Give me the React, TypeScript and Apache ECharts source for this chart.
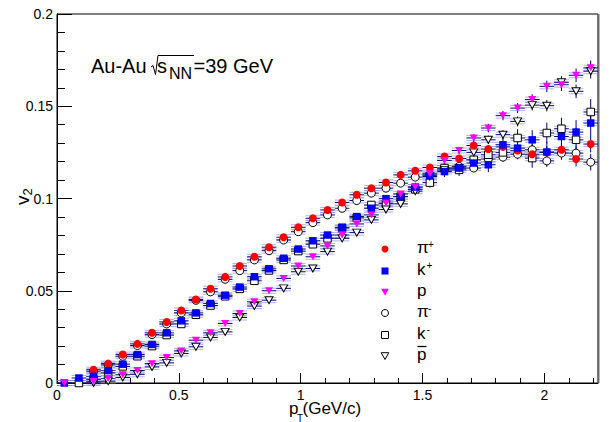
import { useEffect, useRef } from 'react';
import * as echarts from 'echarts';

// pT bin centres (GeV/c)
const PT_BINS = [
  0.03, 0.09, 0.15, 0.21, 0.27, 0.33, 0.39, 0.45, 0.51, 0.57, 0.63, 0.69, 0.75,
  0.81, 0.87, 0.93, 0.99, 1.05, 1.11, 1.17, 1.23, 1.29, 1.35, 1.41, 1.47, 1.53,
  1.59, 1.65, 1.71, 1.77, 1.83, 1.89, 1.95, 2.01, 2.07, 2.13, 2.19,
];

// v2 per species (null = no measurement in that bin)
const V2_PI_PLUS = [
  null, null, 0.0072, 0.0105, 0.0154, 0.0212, 0.0272, 0.0331, 0.0393, 0.0453, 0.0511, 0.0575, 0.0634,
  0.0684, 0.0736, 0.079, 0.0844, 0.0893, 0.0938, 0.0978, 0.102, 0.1056, 0.1087, 0.1128, 0.115, 0.1168,
  0.1228, 0.1217, 0.1287, 0.1268, 0.128, 0.126, 0.124, 0.125, 0.1264, 0.1214, 0.1295,
];
const V2_K_PLUS = [
  0.0, 0.0027, 0.0036, 0.0067, 0.0102, 0.0154, 0.0209, 0.0272, 0.0337, 0.038, 0.0431, 0.0476, 0.052,
  0.0576, 0.0619, 0.0676, 0.0726, 0.0771, 0.0802, 0.0844, 0.0902, 0.0947, 0.0999, 0.101, 0.1062, 0.1123,
  0.1146, 0.1165, 0.1192, 0.1183, 0.1291, 0.1273, 0.1318, 0.1252, 0.1336, 0.136, 0.1409,
];
const V2_P = [
  0.0, null, 0.0008, 0.0024, 0.0045, 0.0068, 0.0105, 0.0138, 0.0174, 0.0232, 0.0272, 0.0323, 0.0377,
  0.044, 0.05, 0.0567, 0.0634, 0.0684, 0.0743, 0.0802, 0.0862, 0.0911, 0.0975, 0.1025, 0.1062, 0.1134,
  0.1206, 0.126, 0.1328, 0.1382, 0.1449, 0.149, 0.1536, 0.1608, 0.1617, 0.1668, 0.1708,
];
const V2_PI_MINUS = [
  null, null, 0.0064, 0.0098, 0.0145, 0.0203, 0.0262, 0.032, 0.038, 0.0448, 0.0494, 0.0562, 0.0609,
  0.0667, 0.0717, 0.0775, 0.082, 0.0869, 0.0911, 0.0947, 0.0989, 0.1029, 0.1056, 0.1083, 0.1116, 0.1128,
  0.1165, 0.1174, 0.1165, 0.1214, 0.1224, 0.124, 0.1264, 0.1204, 0.1246, 0.1246, 0.1197,
];
const V2_K_MINUS = [
  null, 0.0, 0.002, 0.0055, 0.009, 0.0145, 0.02, 0.026, 0.032, 0.037, 0.042, 0.047, 0.051,
  0.0554, 0.061, 0.0667, 0.0715, 0.0752, 0.0784, 0.084, 0.0895, 0.0965, 0.0971, 0.101, 0.105, 0.1086,
  0.1165, 0.1155, 0.121, 0.1237, 0.125, 0.1328, 0.1219, 0.1355, 0.1378, 0.1318, 0.1469,
];
const V2_PBAR = [
  null, null, 0.0, 0.001, 0.003, 0.0047, 0.0087, 0.0109, 0.016, 0.0196, 0.0247, 0.0277, 0.0355,
  0.0417, 0.0449, 0.0513, 0.0603, 0.0621, 0.0712, 0.0784, 0.0815, 0.0884, 0.094, 0.0971, 0.104, 0.1119,
  0.1155, 0.1165, 0.125, 0.1318, 0.1346, 0.1418, 0.1506, 0.1503, 0.163, 0.1581, 0.169,
];

// statistical uncertainties (half-length of the vertical bars)
const ERR_PI = [
  0.0003, 0.0003, 0.0003, 0.0003, 0.0003, 0.0003, 0.0003, 0.0003, 0.0003, 0.0003, 0.0004, 0.0004, 0.0004,
  0.0004, 0.0005, 0.0005, 0.0005, 0.0006, 0.0006, 0.0007, 0.0008, 0.0009, 0.001, 0.0011, 0.0012, 0.0014,
  0.0016, 0.0018, 0.002, 0.0022, 0.0025, 0.0028, 0.003, 0.0033, 0.0036, 0.004, 0.0045,
];
const ERR_K = [
  0.0004, 0.0004, 0.0004, 0.0004, 0.0004, 0.0004, 0.0004, 0.0004, 0.0005, 0.0005, 0.0005, 0.0006, 0.0006,
  0.0007, 0.0008, 0.0009, 0.001, 0.0011, 0.0012, 0.0013, 0.0015, 0.0017, 0.0019, 0.0021, 0.0024, 0.0027,
  0.003, 0.0033, 0.0036, 0.004, 0.0044, 0.0048, 0.0052, 0.0056, 0.006, 0.0065, 0.007,
];
const ERR_P = [
  0.0006, 0.0006, 0.0006, 0.0006, 0.0006, 0.0006, 0.0006, 0.0006, 0.0006, 0.0006, 0.0007, 0.0007, 0.0007,
  0.0008, 0.0008, 0.0009, 0.0009, 0.001, 0.001, 0.0011, 0.0012, 0.0013, 0.0014, 0.0015, 0.0016, 0.0017,
  0.0018, 0.002, 0.0021, 0.0023, 0.0025, 0.0027, 0.0029, 0.0031, 0.0034, 0.0037, 0.004,
];

const X_MAJOR_TICKS = [0, 0.5, 1, 1.5, 2];
const X_MINOR_TICKS = [
  0.1, 0.2, 0.3, 0.4, 0.6, 0.7, 0.8, 0.9, 1.1, 1.2, 1.3, 1.4, 1.6, 1.7, 1.8, 1.9, 2.1, 2.2,
];
const X_MIN = 0;
const X_MAX = 2.22;
const Y_MIN = 0;
const Y_MAX = 0.2;
const Y_STEP = 0.05;
const BIN_HALF_WIDTH = 0.03;

const FONT = '"Liberation Sans", Arial, Helvetica, sans-serif';

type Species = {
  base: string;
  sup?: string;
  bar?: boolean;
  values: (number | null)[];
  err: number[];
  marker: 'circle' | 'rect' | 'triangle';
  fill: string;
  stroke?: string;
};

const SPECIES: Species[] = [
  { base: 'π', sup: '+', values: V2_PI_PLUS, err: ERR_PI, marker: 'circle', fill: '#ff0000' },
  { base: 'k', sup: '+', values: V2_K_PLUS, err: ERR_K, marker: 'rect', fill: '#0000ff' },
  { base: 'p', values: V2_P, err: ERR_P, marker: 'triangle', fill: '#ff00ff' },
  { base: 'π', sup: '-', values: V2_PI_MINUS, err: ERR_PI, marker: 'circle', fill: '#ffffff', stroke: '#000000' },
  { base: 'k', sup: '-', values: V2_K_MINUS, err: ERR_K, marker: 'rect', fill: '#ffffff', stroke: '#000000' },
  { base: 'p', bar: true, values: V2_PBAR, err: ERR_P, marker: 'triangle', fill: '#ffffff', stroke: '#000000' },
];

function points(sp: Species) {
  const out: number[][] = [];
  PT_BINS.forEach((x, i) => {
    const v = sp.values[i];
    if (v !== null && v !== undefined) out.push([x, v, sp.err[i]]);
  });
  return out;
}

function legendMarker(sp: Species, cx: number, cy: number) {
  const style: any = { fill: sp.fill, stroke: sp.stroke ?? null, lineWidth: sp.stroke ? 1 : 0 };
  if (sp.marker === 'circle') return { type: 'circle', shape: { cx, cy, r: 3.5 }, style };
  if (sp.marker === 'rect') return { type: 'rect', shape: { x: cx - 3.5, y: cy - 3.5, width: 7, height: 7 }, style };
  return {
    type: 'polygon',
    shape: { points: [[cx - 3.8, cy - 3.3], [cx + 3.8, cy - 3.3], [cx, cy + 3.5]] },
    style,
  };
}

export default function App() {
  const ref = useRef<HTMLDivElement>(null);

  useEffect(() => {
    if (!ref.current) return;
    const chart = echarts.init(ref.current, undefined, { renderer: 'svg' });

    const errorSeries = SPECIES.map((sp) => ({
      type: 'custom',
      z: 2,
      silent: true,
      clip: false,
      data: points(sp),
      renderItem: (_params: any, api: any) => {
        const x = api.value(0);
        const y = api.value(1);
        const e = api.value(2);
        const c = api.coord([x, y]);
        const l = api.coord([x - BIN_HALF_WIDTH, y]);
        const r = api.coord([x + BIN_HALF_WIDTH, y]);
        const top = api.coord([x, y + e]);
        const bot = api.coord([x, y - e]);
        const light = { stroke: 'rgba(105,115,215,0.55)', lineWidth: 1 };
        const dark = { stroke: '#00007a', lineWidth: 1 };
        return {
          type: 'group',
          children: [
            { type: 'line', shape: { x1: l[0], y1: c[1] - 2.5, x2: r[0], y2: c[1] - 2.5 }, style: light },
            { type: 'line', shape: { x1: l[0], y1: c[1] + 2.5, x2: r[0], y2: c[1] + 2.5 }, style: light },
            { type: 'line', shape: { x1: l[0], y1: c[1], x2: r[0], y2: c[1] }, style: dark },
            { type: 'line', shape: { x1: c[0], y1: top[1], x2: c[0], y2: bot[1] }, style: dark },
          ],
        };
      },
    }));

    // open markers underneath, filled markers on top
    const markerSeries = SPECIES.map((sp) => ({
      type: 'scatter',
      z: sp.stroke ? 3 : 4,
      silent: true,
      data: points(sp).map((p) => [p[0], p[1]]),
      symbol: sp.marker,
      symbolSize: sp.marker === 'triangle' ? [8, 7] : sp.marker === 'rect' ? 7.5 : 8,
      symbolRotate: sp.marker === 'triangle' ? 180 : 0,
      itemStyle: {
        color: sp.fill,
        borderColor: sp.stroke ?? sp.fill,
        borderWidth: sp.stroke ? 1 : 0,
        opacity: 1,
      },
    }));
    const orderedMarkers = [
      ...markerSeries.filter((_s, i) => SPECIES[i].stroke),
      ...markerSeries.filter((_s, i) => !SPECIES[i].stroke),
    ];

    // legend block drawn as graphic elements
    const legendY = [249, 271, 292, 313, 335, 356];
    const legendItems: any[] = [];
    SPECIES.forEach((sp, i) => {
      const y = legendY[i];
      legendItems.push(legendMarker(sp, 385, y));
      legendItems.push({
        type: 'text',
        x: 417,
        y: y - 1.5,
        style: { text: sp.base, fontSize: 17, fontFamily: FONT, fill: '#000', textVerticalAlign: 'middle' },
      });
      if (sp.sup) {
        legendItems.push({
          type: 'text',
          x: sp.base === 'π' ? 428 : 426.5,
          y: y - (sp.base === 'π' ? 5 : 6),
          style: { text: sp.sup, fontSize: 10, fontFamily: FONT, fill: '#000', textVerticalAlign: 'middle' },
        });
      }
      if (sp.bar) {
        legendItems.push({
          type: 'line',
          shape: { x1: 417.5, y1: y - 9.5, x2: 426.5, y2: y - 9.5 },
          style: { stroke: '#000', lineWidth: 1.3 },
        });
      }
    });

    const titleItems: any[] = [
      {
        type: 'text', x: 91, y: 66,
        style: { text: 'Au-Au', fontSize: 20, fontFamily: FONT, fill: '#000', textVerticalAlign: 'middle' },
      },
      {
        type: 'polyline',
        shape: { points: [[151, 67], [153, 65.5], [155.5, 74.5], [158, 55.5], [194, 55.5]] },
        style: { stroke: '#000', lineWidth: 1, fill: null },
      },
      {
        type: 'text', x: 157, y: 66,
        style: { text: 's', fontSize: 20, fontFamily: FONT, fill: '#000', textVerticalAlign: 'middle' },
      },
      {
        type: 'text', x: 169, y: 73.5,
        style: { text: 'NN', fontSize: 16, fontFamily: FONT, fill: '#000', textVerticalAlign: 'middle' },
      },
      {
        type: 'text', x: 193.5, y: 66,
        style: { text: '=39 GeV', fontSize: 20, fontFamily: FONT, fill: '#000', textVerticalAlign: 'middle' },
      },
      // x-axis title: p_T(GeV/c)
      {
        type: 'text', x: 289, y: 408,
        style: { text: 'p', fontSize: 17, fontFamily: FONT, fill: '#000', textVerticalAlign: 'middle' },
      },
      {
        type: 'text', x: 297, y: 418,
        style: { text: 'T', fontSize: 10, fontFamily: FONT, fill: '#000', textVerticalAlign: 'middle' },
      },
      {
        type: 'text', x: 302.5, y: 408,
        style: { text: '(GeV/c)', fontSize: 17, fontFamily: FONT, fill: '#000', textVerticalAlign: 'middle' },
      },
      // y-axis title: v_2
      {
        type: 'group', x: 22, y: 199, rotation: Math.PI / 2,
        children: [
          {
            type: 'text', x: -6, y: 0,
            style: { text: 'v', fontSize: 19, fontFamily: FONT, fill: '#000', textVerticalAlign: 'middle' },
          },
          {
            type: 'text', x: 3.5, y: 5,
            style: { text: '2', fontSize: 13, fontFamily: FONT, fill: '#000', textVerticalAlign: 'middle' },
          },
        ],
      },
      // right edge of the frame
      {
        type: 'line', shape: { x1: 598.5, y1: 14, x2: 598.5, y2: 383 },
        style: { stroke: '#6e6e6e', lineWidth: 2 },
      },
    ];

    const axisLineStyle = { color: '#000', width: 1 };
    const labelStyle = { color: '#000', fontFamily: FONT, fontSize: 14 };

    chart.setOption({
      animation: false,
      backgroundColor: '#ffffff',
      grid: {
        left: 57, right: 18, top: 14, bottom: 39,
        show: true, borderColor: '#000', borderWidth: 1, backgroundColor: 'transparent',
      },
      xAxis: [
        {
          type: 'value', min: X_MIN, max: X_MAX, position: 'bottom',
          axisLine: { show: true, onZero: false, lineStyle: axisLineStyle },
          axisTick: { show: true, inside: true, length: 10, customValues: X_MAJOR_TICKS, lineStyle: axisLineStyle },
          axisLabel: { ...labelStyle, margin: 5, customValues: X_MAJOR_TICKS },
          splitLine: { show: false },
        },
        {
          type: 'value', min: X_MIN, max: X_MAX, position: 'bottom',
          axisLine: { show: false },
          axisTick: { show: true, inside: true, length: 5, customValues: X_MINOR_TICKS, lineStyle: axisLineStyle },
          axisLabel: { show: false },
          splitLine: { show: false },
        },
      ],
      yAxis: {
        type: 'value', min: Y_MIN, max: Y_MAX, interval: Y_STEP,
        axisLine: { show: true, onZero: false, lineStyle: axisLineStyle },
        axisTick: { show: true, inside: true, length: 15, lineStyle: axisLineStyle },
        minorTick: { show: true, splitNumber: 5, length: 8, lineStyle: axisLineStyle },
        axisLabel: { ...labelStyle, margin: 4 },
        splitLine: { show: false },
      },
      graphic: { elements: [...titleItems, ...legendItems] },
      series: [...errorSeries, ...orderedMarkers],
    });

    return () => chart.dispose();
  }, []);

  return (
    <div
      ref={ref}
      style={{ position: 'fixed', left: 0, top: 0, width: 616, height: 422, background: '#fff' }}
    />
  );
}
